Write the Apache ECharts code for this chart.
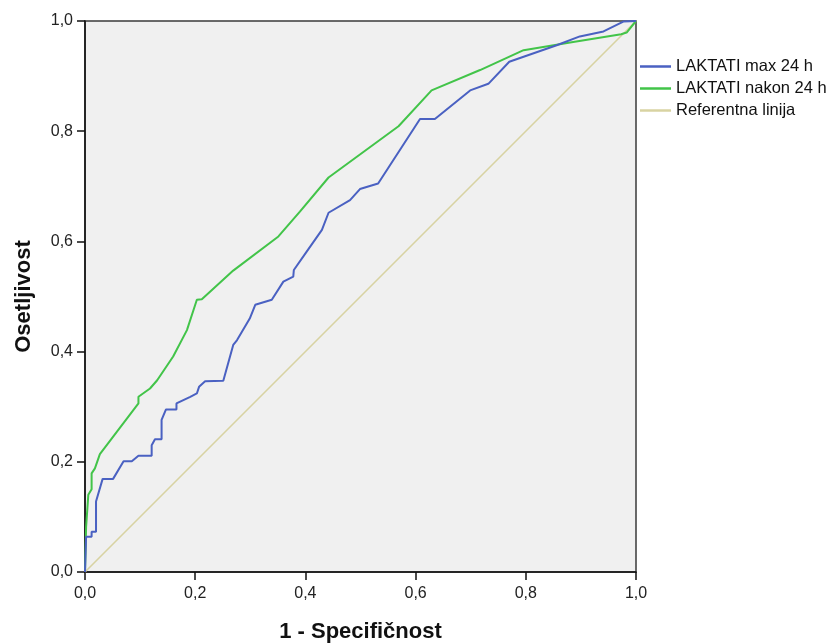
<!DOCTYPE html>
<html>
<head>
<meta charset="utf-8">
<script src="https://cdn.jsdelivr.net/npm/echarts@6/dist/echarts.min.js"></script>
<style>
  html, body { margin: 0; padding: 0; background: #ffffff; }
  #chart { width: 837px; height: 644px; }
</style>
</head>
<body>
<div id="chart"></div>
<script>
// ROC curves: [1 - specificity, sensitivity]
const seriesNames = ['LAKTATI max 24 h', 'LAKTATI nakon 24 h', 'Referentna linija'];

const laktatiMax = [
  [0, 0], [0.002, 0.064], [0.012, 0.064], [0.012, 0.073], [0.020, 0.073], [0.020, 0.128],
  [0.032, 0.169], [0.051, 0.169], [0.070, 0.201], [0.085, 0.201], [0.097, 0.211], [0.121, 0.211],
  [0.121, 0.230], [0.127, 0.241], [0.139, 0.241], [0.139, 0.276], [0.147, 0.295], [0.166, 0.295],
  [0.166, 0.306], [0.191, 0.318], [0.203, 0.324], [0.207, 0.336], [0.218, 0.346], [0.251, 0.347],
  [0.269, 0.412], [0.276, 0.421], [0.299, 0.460], [0.309, 0.485], [0.339, 0.494], [0.360, 0.527],
  [0.378, 0.536], [0.379, 0.548], [0.402, 0.581], [0.430, 0.621], [0.442, 0.652], [0.481, 0.675],
  [0.499, 0.695], [0.532, 0.705], [0.608, 0.822], [0.635, 0.822], [0.699, 0.874], [0.732, 0.886],
  [0.770, 0.926], [0.796, 0.935], [0.856, 0.956], [0.898, 0.972], [0.941, 0.981], [0.977, 0.999],
  [1, 1]
];

const laktatiNakon = [
  [0, 0], [0.002, 0.082], [0.006, 0.140], [0.012, 0.150], [0.012, 0.179], [0.018, 0.188],
  [0.027, 0.214], [0.097, 0.306], [0.097, 0.318], [0.118, 0.333], [0.131, 0.348], [0.160, 0.391],
  [0.185, 0.439], [0.203, 0.494], [0.212, 0.495], [0.269, 0.547], [0.351, 0.609], [0.390, 0.654],
  [0.442, 0.716], [0.569, 0.809], [0.629, 0.874], [0.717, 0.911], [0.796, 0.947], [0.886, 0.962],
  [0.973, 0.976], [0.983, 0.979], [1, 1]
];

const referentna = [[0, 0], [1, 1]];

const axisTicks = [0, 0.2, 0.4, 0.6, 0.8, 1.0];

const font = '"Liberation Sans", Arial, sans-serif';
const fmt = v => v.toFixed(1).replace('.', ',');

const chart = echarts.init(document.getElementById('chart'), null, { renderer: 'canvas' });

chart.setOption({
  animation: false,
  backgroundColor: '#ffffff',
  grid: {
    left: 85, top: 21, width: 551, height: 551,
    outerBoundsMode: 'none',
    containLabel: false,
    show: true,
    backgroundColor: '#f0f0f0',
    borderColor: '#3a3a3a',
    borderWidth: 1.5
  },
  legend: {
    orient: 'vertical',
    left: 640,
    top: 58,
    padding: 0,
    itemWidth: 31,
    itemHeight: 2.5,
    itemGap: 5,
    icon: 'rect',
    data: seriesNames,
    textStyle: { fontFamily: font, fontSize: 16.5, color: '#111', lineHeight: 16 }
  },
  xAxis: {
    type: 'value',
    min: axisTicks[0], max: axisTicks[axisTicks.length - 1], interval: 0.2,
    name: '1 - Specifičnost',
    nameLocation: 'middle',
    nameGap: 49,
    nameTextStyle: { fontFamily: font, fontSize: 22, fontWeight: 'bold', color: '#111' },
    axisLine: { show: true, lineStyle: { color: '#111', width: 1.5 } },
    axisTick: { show: true, length: 8, lineStyle: { color: '#111', width: 1.5 } },
    axisLabel: { formatter: fmt, fontFamily: font, fontSize: 16, color: '#222', margin: 14 },
    splitLine: { show: false }
  },
  yAxis: {
    type: 'value',
    min: axisTicks[0], max: axisTicks[axisTicks.length - 1], interval: 0.2,
    name: 'Osetljivost',
    nameLocation: 'middle',
    nameGap: 50,
    nameTextStyle: { fontFamily: font, fontSize: 22, fontWeight: 'bold', color: '#111' },
    axisLine: { show: true, lineStyle: { color: '#111', width: 1.5 } },
    axisTick: { show: true, length: 8, lineStyle: { color: '#111', width: 1.5 } },
    axisLabel: { formatter: fmt, fontFamily: font, fontSize: 16, color: '#222', margin: 12 },
    splitLine: { show: false }
  },
  series: [
    {
      name: seriesNames[0], type: 'line', data: laktatiMax,
      showSymbol: false, symbol: 'none',
      lineStyle: { color: '#4a61c2', width: 2 }, itemStyle: { color: '#4a61c2' }, z: 4
    },
    {
      name: seriesNames[1], type: 'line', data: laktatiNakon,
      showSymbol: false, symbol: 'none',
      lineStyle: { color: '#42c449', width: 2 }, itemStyle: { color: '#42c449' }, z: 3
    },
    {
      name: seriesNames[2], type: 'line', data: referentna,
      showSymbol: false, symbol: 'none',
      lineStyle: { color: '#d8d3a2', width: 1.6 }, itemStyle: { color: '#d8d3a2' }, z: 2
    }
  ]
});
</script>
</body>
</html>
